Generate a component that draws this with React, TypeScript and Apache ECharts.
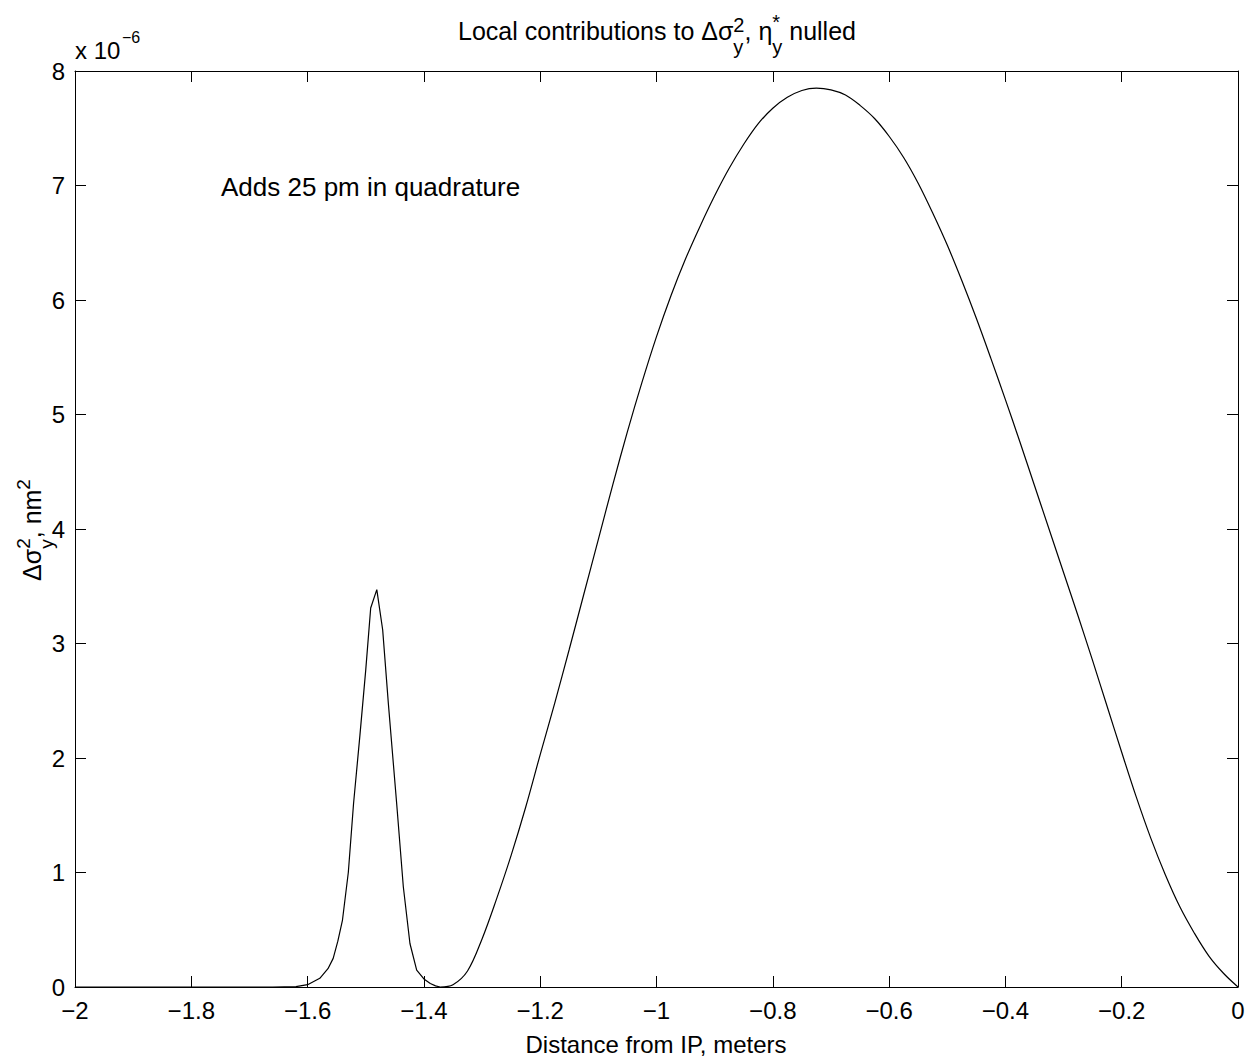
import React, { useEffect, useRef } from "react";
import * as echarts from "echarts";

const FONT = '"Liberation Sans", Arial, Helvetica, sans-serif';

// Narrow peak (sampled, drawn with straight segments)
const peakX = [-2, -1.66, -1.62, -1.6, -1.579, -1.565, -1.556, -1.548, -1.54, -1.53, -1.521, -1.51, -1.5, -1.4915, -1.481, -1.4709, -1.4612, -1.4468, -1.4354, -1.424, -1.4124, -1.4, -1.389, -1.38, -1.372];
const peakY = [0, 0, 0.004, 0.02, 0.076, 0.16, 0.25, 0.4, 0.585, 1.0, 1.6, 2.2, 2.77, 3.31, 3.47, 3.12, 2.48, 1.6, 0.876, 0.38, 0.148, 0.07, 0.03, 0.01, 0];

// Broad hump
const bumpX = [-1.372, -1.35, -1.325, -1.3, -1.275, -1.25, -1.225, -1.2, -1.175, -1.15, -1.125, -1.1, -1.075, -1.05, -1.025, -1.0, -0.975, -0.95, -0.925, -0.9, -0.875, -0.85, -0.825, -0.8, -0.775, -0.75, -0.725, -0.7, -0.675, -0.65, -0.625, -0.6, -0.575, -0.55, -0.525, -0.5, -0.475, -0.45, -0.425, -0.4, -0.375, -0.35, -0.325, -0.3, -0.275, -0.25, -0.225, -0.2, -0.175, -0.15, -0.125, -0.1, -0.075, -0.05, -0.025, 0];
const bumpY = [0, 0.02, 0.14, 0.42, 0.77, 1.15, 1.57, 2.03, 2.48, 2.95, 3.43, 3.91, 4.39, 4.85, 5.28, 5.68, 6.04, 6.36, 6.645, 6.91, 7.15, 7.36, 7.54, 7.675, 7.77, 7.83, 7.85, 7.835, 7.79, 7.7, 7.585, 7.43, 7.245, 7.02, 6.76, 6.48, 6.17, 5.84, 5.49, 5.13, 4.76, 4.38, 4.0, 3.62, 3.24, 2.85, 2.45, 2.05, 1.66, 1.3, 0.98, 0.7, 0.47, 0.27, 0.12, 0];

const xMin = -2, xMax = 0, xStep = 0.2;
const yMin = 0, yMax = 8, yStep = 1;

const titleBaseline = 39;
const titleCenter = 657;

type Piece = { t: string; s: number; dy: number } | { stack: { t: string; s: number; dy: number }[] };

let measureCtx: CanvasRenderingContext2D | null = null;
function tw(t: string, s: number) {
  if (!measureCtx) measureCtx = document.createElement("canvas").getContext("2d");
  measureCtx!.font = `${s}px ${FONT}`;
  return measureCtx!.measureText(t).width;
}

function layout(pieces: Piece[]) {
  const items: { t: string; s: number; dx: number; dy: number }[] = [];
  let x = 0;
  for (const p of pieces) {
    if ("stack" in p) {
      let w = 0;
      for (const q of p.stack) {
        items.push({ t: q.t, s: q.s, dx: x, dy: q.dy });
        w = Math.max(w, tw(q.t, q.s));
      }
      x += w;
    } else {
      items.push({ t: p.t, s: p.s, dx: x, dy: p.dy });
      x += tw(p.t, p.s);
    }
  }
  return { items, width: x };
}

function textEl(t: string, s: number, x: number, baseline: number) {
  return {
    type: "text",
    x,
    y: baseline - 0.33 * s,
    silent: true,
    style: {
      text: t,
      font: `${s}px ${FONT}`,
      fill: "#000",
      align: "left",
      textAlign: "left",
      verticalAlign: "middle",
      textVerticalAlign: "middle",
    },
  };
}

export default function App() {
  const ref = useRef<HTMLDivElement>(null);
  useEffect(() => {
    if (!ref.current) return;
    document.body.style.margin = "0";
    const chart = echarts.init(ref.current, null, { renderer: "svg" });

    const M = 24;
    const TM = 25;
    const TS = 20;
    const title = layout([
      { t: "Local contributions to \u0394\u03c3", s: TM, dy: 0 },
      { stack: [{ t: "2", s: TS, dy: -7 }, { t: "y", s: TS, dy: 15 }] },
      { t: ", \u03b7", s: TM, dy: 0 },
      { stack: [{ t: "*", s: TS, dy: -10 }, { t: "y", s: TS, dy: 15 }] },
      { t: " nulled", s: TM, dy: 0 },
    ]);
    const tx0 = titleCenter - title.width / 2;
    const titleEls = title.items.map((it) => textEl(it.t, it.s, tx0 + it.dx, titleBaseline + it.dy));

    const YM = 25;
    const YS = 19;
    const ylab = layout([
      { t: "\u0394\u03c3", s: YM, dy: 0 },
      { stack: [{ t: "2", s: YS, dy: -10 }, { t: "y", s: YS, dy: 13 }] },
      { t: ", nm", s: YM, dy: 0 },
      { t: "2", s: YS, dy: -10 },
    ]);
    const yCenter = 530;
    const yEls = ylab.items.map((it) => textEl(it.t, it.s, it.dx - ylab.width / 2, it.dy));

    const fmt = (v: number) => String(Number(v.toFixed(1))).replace("-", "\u2212");

    const axisCommon = {
      type: "value" as const,
      axisLine: { show: true, onZero: false, lineStyle: { color: "#000", width: 1 } },
      axisTick: { show: true, inside: true, length: 11, lineStyle: { color: "#000", width: 1 } },
      splitLine: { show: false },
    };

    chart.setOption({
      animation: false,
      backgroundColor: "#fff",
      grid: { left: 75, right: 20, top: 71, bottom: 75, containLabel: false },
      xAxis: [
        {
          ...axisCommon,
          min: xMin,
          max: xMax,
          interval: xStep,
          position: "bottom",
          axisLabel: { margin: 11, color: "#000", fontSize: M, fontFamily: FONT, formatter: fmt },
        },
        {
          ...axisCommon,
          min: xMin,
          max: xMax,
          interval: xStep,
          position: "top",
          axisLabel: { show: false },
        },
      ],
      yAxis: [
        {
          ...axisCommon,
          min: yMin,
          max: yMax,
          interval: yStep,
          position: "left",
          axisLabel: { margin: 10, color: "#000", fontSize: M, fontFamily: FONT, formatter: fmt },
        },
        {
          ...axisCommon,
          min: yMin,
          max: yMax,
          interval: yStep,
          position: "right",
          axisLabel: { show: false },
        },
      ],
      series: [
        {
          type: "line",
          xAxisIndex: 0,
          yAxisIndex: 0,
          data: peakX.map((x, i) => [x, peakY[i]]),
          showSymbol: false,
          symbol: "none",
          smooth: false,
          silent: true,
          lineStyle: { color: "#000", width: 1.2 },
        },
        {
          type: "line",
          xAxisIndex: 0,
          yAxisIndex: 0,
          data: bumpX.map((x, i) => [x, bumpY[i]]),
          showSymbol: false,
          symbol: "none",
          smooth: 0.35,
          silent: true,
          lineStyle: { color: "#000", width: 1.2 },
        },
      ],
      graphic: [
        { type: "group", x: 0, y: 0, children: titleEls },
        { type: "group", x: 40, y: yCenter, rotation: Math.PI / 2, children: yEls },
        textEl("x 10", M, 75, 58),
        textEl("\u22126", 16, 122, 43),
        textEl("Adds 25 pm in quadrature", 26, 221, 196),
        {
          type: "text",
          x: 656,
          y: 1044,
          silent: true,
          style: {
            text: "Distance from IP, meters",
            font: `${M}px ${FONT}`,
            fill: "#000",
            align: "center",
            textAlign: "center",
            verticalAlign: "middle",
            textVerticalAlign: "middle",
          },
        },
      ],
    });
    return () => chart.dispose();
  }, []);
  return (
    <div
      ref={ref}
      style={{ position: "absolute", left: 0, top: 0, width: 1258, height: 1062, background: "#fff" }}
    />
  );
}
